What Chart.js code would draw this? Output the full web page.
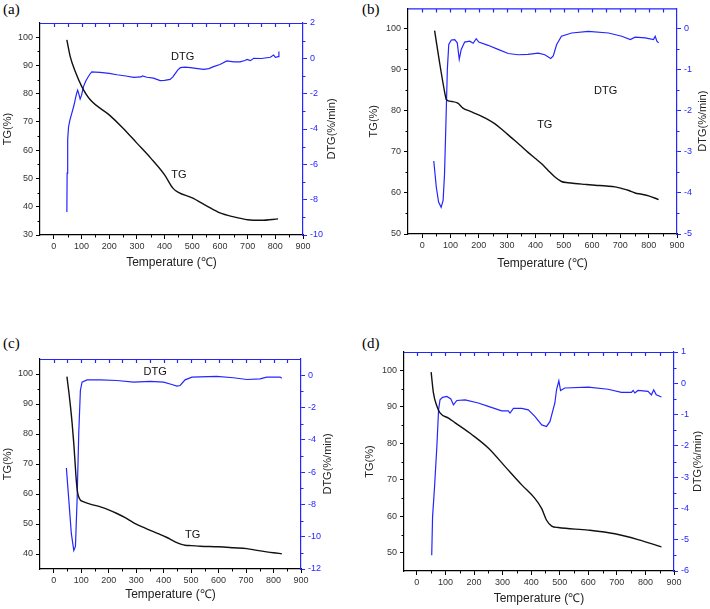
<!DOCTYPE html>
<html>
<head>
<meta charset="utf-8">
<script src="https://cdn.jsdelivr.net/npm/chart.js@4.4.0/dist/chart.umd.min.js"></script>
<style>
  body { margin: 0; background: #fff; width: 710px; height: 609px; position: relative; overflow: hidden; }
  canvas { position: absolute; }
  .tag { position: absolute; font-family: "Liberation Serif", "Times New Roman", serif; font-size: 15px; color: #000; }
</style>
</head>
<body>
<div class="tag" style="left:3px;top:1px">(a)</div>
<div class="tag" style="left:362px;top:1px">(b)</div>
<div class="tag" style="left:3px;top:335px">(c)</div>
<div class="tag" style="left:362px;top:335px">(d)</div>
<canvas id="chartA" width="355" height="290" style="left:0;top:0"></canvas>
<canvas id="chartB" width="355" height="290" style="left:355px;top:0"></canvas>
<canvas id="chartC" width="355" height="309" style="left:0;top:300px"></canvas>
<canvas id="chartD" width="355" height="309" style="left:355px;top:300px"></canvas>
<script>
// graduations
const tempTicks = [0, 100, 200, 300, 400, 500, 600, 700, 800, 900]
const tgTicksA = [30, 40, 50, 60, 70, 80, 90, 100]
const tgTicksB = [50, 60, 70, 80, 90, 100]
const tgTicksC = [40, 50, 60, 70, 80, 90, 100]
const tgTicksD = [50, 60, 70, 80, 90, 100]
const dtgTicksA = [-10, -8, -6, -4, -2, 0, 2]
const dtgTicksB = [-5, -4, -3, -2, -1, 0]
const dtgTicksC = [-12, -10, -8, -6, -4, -2, 0]
const dtgTicksD = [-6, -5, -4, -3, -2, -1, 0, 1]

// (a)
const tempTgA = [47, 59, 77, 101, 130, 200, 250, 300, 350, 400, 430, 450, 500, 550, 600, 650, 700, 750, 810]
const tgA = [99, 93.2, 87.9, 82.5, 78, 72.5, 67.8, 62.5, 57.2, 51.3, 46.6, 45.1, 43.1, 40.4, 37.8, 36.4, 35.4, 35.2, 35.7]
const tempDtgA = [47, 48, 50, 53, 58, 65, 72, 77, 82, 86, 90, 95, 100, 107, 115, 122, 130, 137, 150, 167, 200, 228, 260, 288, 315, 320, 336, 360, 384, 400, 420, 430, 439, 448, 457, 475, 493, 520, 541, 560, 577, 600, 625, 650, 673, 690, 698, 710, 722, 750, 782, 794, 800, 807, 810, 813]
const dtgA = [-8.7, -6.5, -4.6, -3.9, -3.5, -3.1, -2.7, -2.35, -2.0, -1.8, -2.0, -2.3, -2.1, -1.6, -1.3, -1.1, -0.9, -0.77, -0.78, -0.8, -0.85, -0.93, -1.0, -1.08, -1.05, -1.0, -1.07, -1.12, -1.26, -1.25, -1.19, -1.05, -0.85, -0.65, -0.53, -0.5, -0.53, -0.58, -0.62, -0.58, -0.47, -0.35, -0.15, -0.2, -0.2, -0.12, -0.06, -0.13, 0, -0.01, 0.06, 0.19, 0.06, 0.08, 0.1, 0.38]

// (b)
const tempTgB = [44, 61, 81, 85, 105, 126, 144, 170, 197, 225, 256, 285, 315, 345, 374, 400, 422, 445, 469, 492, 515, 540, 575, 611, 650, 681, 705, 730, 752, 775, 800, 835]
const tgB = [99.6, 92, 84, 82.8, 82.3, 81.9, 80.7, 79.9, 79.1, 78.2, 76.9, 75.3, 73.5, 71.7, 69.9, 68.4, 67.1, 65.5, 63.9, 62.8, 62.5, 62.3, 62.1, 61.9, 61.7, 61.5, 61.1, 60.6, 60, 59.7, 59.3, 58.4]
const tempDtgB = [41, 50, 58, 67, 74, 79, 85, 89, 94, 103, 115, 124, 131, 138, 150, 168, 180, 191, 200, 233, 268, 304, 339, 374, 410, 433, 454, 463, 475, 492, 528, 587, 658, 705, 735, 752, 788, 817, 823, 829, 835]
const dtgB = [-3.22, -3.86, -4.22, -4.35, -4.18, -3.54, -2.02, -0.98, -0.38, -0.27, -0.26, -0.34, -0.74, -0.5, -0.32, -0.3, -0.35, -0.24, -0.32, -0.4, -0.5, -0.6, -0.63, -0.62, -0.59, -0.63, -0.72, -0.66, -0.38, -0.18, -0.1, -0.06, -0.1, -0.18, -0.26, -0.2, -0.22, -0.26, -0.18, -0.3, -0.34]

// (c)
const tempTgC = [48, 55, 61, 67, 73, 78, 82, 86, 91, 97, 103, 130, 170, 200, 230, 260, 291, 320, 351, 380, 412, 430, 448, 465, 478, 500, 533, 600, 654, 703, 740, 775, 800, 830]
const tgC = [99.1, 94, 89.1, 83.5, 76.8, 70, 64.6, 61, 59, 58, 57.6, 56.7, 55.7, 54.7, 53.5, 52.1, 50.4, 49.1, 47.9, 46.8, 45.5, 44.6, 43.8, 43.2, 42.9, 42.8, 42.6, 42.4, 42.1, 41.8, 41.2, 40.7, 40.4, 40.1]
const tempDtgC = [46, 55, 64, 73, 79, 85, 91, 97, 103, 121, 170, 230, 291, 351, 400, 430, 448, 460, 478, 503, 593, 654, 703, 751, 775, 824, 830]
const dtgC = [-5.75, -7.75, -9.8, -10.85, -10.6, -7.75, -3.63, -0.95, -0.43, -0.29, -0.29, -0.33, -0.43, -0.39, -0.43, -0.58, -0.68, -0.64, -0.29, -0.12, -0.08, -0.16, -0.27, -0.23, -0.12, -0.12, -0.19]

// (d)
const tempTgD = [50, 58, 70, 81, 111, 134, 192, 250, 309, 367, 413, 437, 454, 472, 495, 600, 693, 774, 856]
const tgD = [99.5, 93.8, 90.2, 88.3, 86.9, 85.6, 82.4, 78.7, 73.6, 68.6, 64.9, 62.1, 58.9, 57.3, 56.9, 56.2, 55.2, 53.6, 51.6]
const tempDtgD = [52, 55, 62, 70, 76, 81, 90, 105, 119, 128, 140, 169, 215, 250, 297, 320, 326, 338, 367, 390, 413, 437, 454, 466, 483, 489, 497, 503, 518, 600, 669, 716, 751, 757, 763, 774, 809, 821, 829, 838, 856]
const dtgD = [-5.5, -4.27, -3.3, -2.02, -0.85, -0.53, -0.45, -0.42, -0.5, -0.69, -0.55, -0.53, -0.63, -0.74, -0.88, -0.88, -0.95, -0.8, -0.8, -0.85, -1.06, -1.33, -1.38, -1.22, -0.63, -0.2, 0.08, -0.23, -0.15, -0.12, -0.19, -0.29, -0.29, -0.23, -0.31, -0.23, -0.26, -0.37, -0.21, -0.37, -0.44]

const BLUE = "#2525ff"
const INK = "#333333"
const FONT = "'Liberation Sans', Arial, Helvetica, sans-serif"
const TICK = 4
const MINOR = 2.5

const toPoints = (xs, ys) => xs.map((x, i) => ({ x: x, y: ys[i] }))

const isMultiple = (v, step) => Math.abs(v / step - Math.round(v / step)) < 1e-6

// impose les graduations principales
const fixedTicks = (values) => (scale) => {
  scale.ticks = values.map((v) => ({ value: v }))
}

function drawMinorTicks(ctx, scale, minor, major, color) {
  ctx.strokeStyle = color
  ctx.lineWidth = 1
  ctx.beginPath()
  for (let v = Math.ceil(scale.min / minor) * minor; v < scale.max - 1e-9; v += minor) {
    if (v <= scale.min + 1e-9 || isMultiple(v, major)) continue
    const p = Math.round(scale.getPixelForValue(v)) + 0.5
    if (scale.isHorizontal()) {
      ctx.moveTo(p, scale.top)
      ctx.lineTo(p, scale.top + MINOR)
    } else if (scale.position === "left") {
      ctx.moveTo(scale.right, p)
      ctx.lineTo(scale.right - MINOR, p)
    } else {
      ctx.moveTo(scale.left, p)
      ctx.lineTo(scale.left + MINOR, p)
    }
  }
  ctx.stroke()
}

// graduations secondaires, bord supérieur, titre droit et étiquettes
const decorations = {
  id: "decorations",
  afterDraw(chart, args, opts) {
    const { ctx, chartArea: area, scales } = chart
    ctx.save()
    drawMinorTicks(ctx, scales.x, 50, 100, "#000")
    drawMinorTicks(ctx, scales.y, 5, 10, "#000")
    drawMinorTicks(ctx, scales.y1, opts.rightMinor, opts.rightStep, BLUE)

    // axe supérieur
    ctx.strokeStyle = BLUE
    ctx.lineWidth = 1.2
    ctx.beginPath()
    ctx.moveTo(area.left, area.top + 0.5)
    ctx.lineTo(area.right, area.top + 0.5)
    for (let v = Math.ceil(scales.x.min / 50) * 50; v < scales.x.max; v += 50) {
      if (v <= scales.x.min) continue
      const p = Math.round(scales.x.getPixelForValue(v)) + 0.5
      ctx.moveTo(p, area.top)
      ctx.lineTo(p, area.top + TICK)
    }
    ctx.stroke()

    // titre de l'axe droit
    ctx.fillStyle = "#222"
    ctx.font = "11px " + FONT
    ctx.textAlign = "center"
    ctx.textBaseline = "middle"
    ctx.save()
    ctx.translate(area.right + opts.rightTitleOffset, (area.top + area.bottom) / 2)
    ctx.rotate(-Math.PI / 2)
    ctx.fillText("DTG(%/min)", 0, 0)
    ctx.restore()

    // étiquettes des courbes
    ctx.fillStyle = "#111"
    ctx.font = "11px " + FONT
    opts.notes.forEach((n) => {
      ctx.fillText(n.text, scales.x.getPixelForValue(n.x), scales.y.getPixelForValue(n.y))
    })
    ctx.restore()
  },
}

function buildPanel(id, p) {
  const canvas = document.getElementById(id)
  const W = canvas.width
  const H = canvas.height
  return new Chart(canvas, {
    type: "line",
    data: {
      datasets: [
        {
          label: "TG",
          data: toPoints(p.tgTemp, p.tg),
          yAxisID: "y",
          borderColor: "#111",
          borderWidth: 1.4,
          pointRadius: 0,
          cubicInterpolationMode: "monotone",
          fill: false,
        },
        {
          label: "DTG",
          data: toPoints(p.dtgTemp, p.dtg),
          yAxisID: "y1",
          borderColor: BLUE,
          borderWidth: 1.2,
          pointRadius: 0,
          tension: 0,
          fill: false,
        },
      ],
    },
    options: {
      responsive: false,
      animation: false,
      events: [],
      layout: { padding: { top: p.area.top, left: 0, right: 0, bottom: 0 } },
      plugins: {
        legend: { display: false },
        tooltip: { enabled: false },
        decorations: {
          rightStep: p.dtgTicks[1] - p.dtgTicks[0],
          rightMinor: (p.dtgTicks[1] - p.dtgTicks[0]) / 2,
          rightTitleOffset: p.rightTitleOffset,
          notes: p.notes,
        },
      },
      scales: {
        x: {
          type: "linear",
          position: "bottom",
          min: p.xMin,
          max: 900,
          afterFit: (s) => { s.height = H - p.area.bottom },
          afterBuildTicks: fixedTicks(tempTicks),
          border: { color: "#000", width: 1.2 },
          grid: { drawOnChartArea: false, tickLength: TICK, tickColor: "#000" },
          ticks: { maxRotation: 0, autoSkip: false, padding: 2, color: INK, font: { family: FONT, size: 9 } },
          title: { display: true, text: "Temperature (\u2103)", color: "#222", font: { family: FONT, size: 12 }, padding: { top: 0, bottom: p.xTitlePad } },
        },
        y: {
          type: "linear",
          position: "left",
          min: p.tgMin,
          max: 105,
          afterFit: (s) => { s.width = p.area.left },
          afterBuildTicks: fixedTicks(p.tgTicks),
          border: { color: "#000", width: 1.2 },
          grid: { drawOnChartArea: false, tickLength: TICK, tickColor: "#000" },
          ticks: { autoSkip: false, padding: 3, color: INK, font: { family: FONT, size: 9 } },
          title: { display: true, text: "TG(%)", color: "#222", font: { family: FONT, size: 11 }, padding: { top: p.yTitlePad, bottom: 0 } },
        },
        y1: {
          type: "linear",
          position: "right",
          min: p.dtgMin,
          max: p.dtgMax,
          afterFit: (s) => { s.width = W - p.area.right },
          afterBuildTicks: fixedTicks(p.dtgTicks),
          border: { color: BLUE, width: 1.2 },
          grid: { drawOnChartArea: false, tickLength: TICK, tickColor: BLUE },
          ticks: { autoSkip: false, padding: 3, color: BLUE, font: { family: FONT, size: 9 } },
        },
      },
    },
    plugins: [decorations],
  })
}

buildPanel("chartA", {
  tgTemp: tempTgA, tg: tgA, dtgTemp: tempDtgA, dtg: dtgA,
  tgTicks: tgTicksA, dtgTicks: dtgTicksA,
  area: { left: 40, right: 303, top: 23, bottom: 235 },
  xMin: -50, tgMin: 30, dtgMin: -10, dtgMax: 2,
  xTitlePad: 20, yTitlePad: 1, rightTitleOffset: 29,
  notes: [{ text: "DTG", x: 465, y: 92.9 }, { text: "TG", x: 452, y: 51.1 }],
})

buildPanel("chartB", {
  tgTemp: tempTgB, tg: tgB, dtgTemp: tempDtgB, dtg: dtgB,
  tgTicks: tgTicksB, dtgTicks: dtgTicksB,
  area: { left: 53, right: 322, top: 5, bottom: 234 },
  xMin: -50, tgMin: 50, dtgMin: -5, dtgMax: 0.5,
  xTitlePad: 19, yTitlePad: 12, rightTitleOffset: 26,
  notes: [{ text: "DTG", x: 648, y: 84.8 }, { text: "TG", x: 433, y: 76.6 }],
})

buildPanel("chartC", {
  tgTemp: tempTgC, tg: tgC, dtgTemp: tempDtgC, dtg: dtgC,
  tgTicks: tgTicksC, dtgTicks: dtgTicksC,
  area: { left: 40, right: 301, top: 59, bottom: 269 },
  xMin: -50, tgMin: 35, dtgMin: -12, dtgMax: 1,
  xTitlePad: 7, yTitlePad: 1, rightTitleOffset: 27,
  notes: [{ text: "DTG", x: 369, y: 100.6 }, { text: "TG", x: 506, y: 46.5 }],
})

buildPanel("chartD", {
  tgTemp: tempTgD, tg: tgD, dtgTemp: tempDtgD, dtg: dtgD,
  tgTicks: tgTicksD, dtgTicks: dtgTicksD,
  area: { left: 49, right: 319, top: 52, bottom: 271 },
  xMin: -45, tgMin: 45, dtgMin: -6, dtgMax: 1,
  xTitlePad: 3, yTitlePad: 8, rightTitleOffset: 24,
  notes: [],
})
</script>
</body>
</html>
